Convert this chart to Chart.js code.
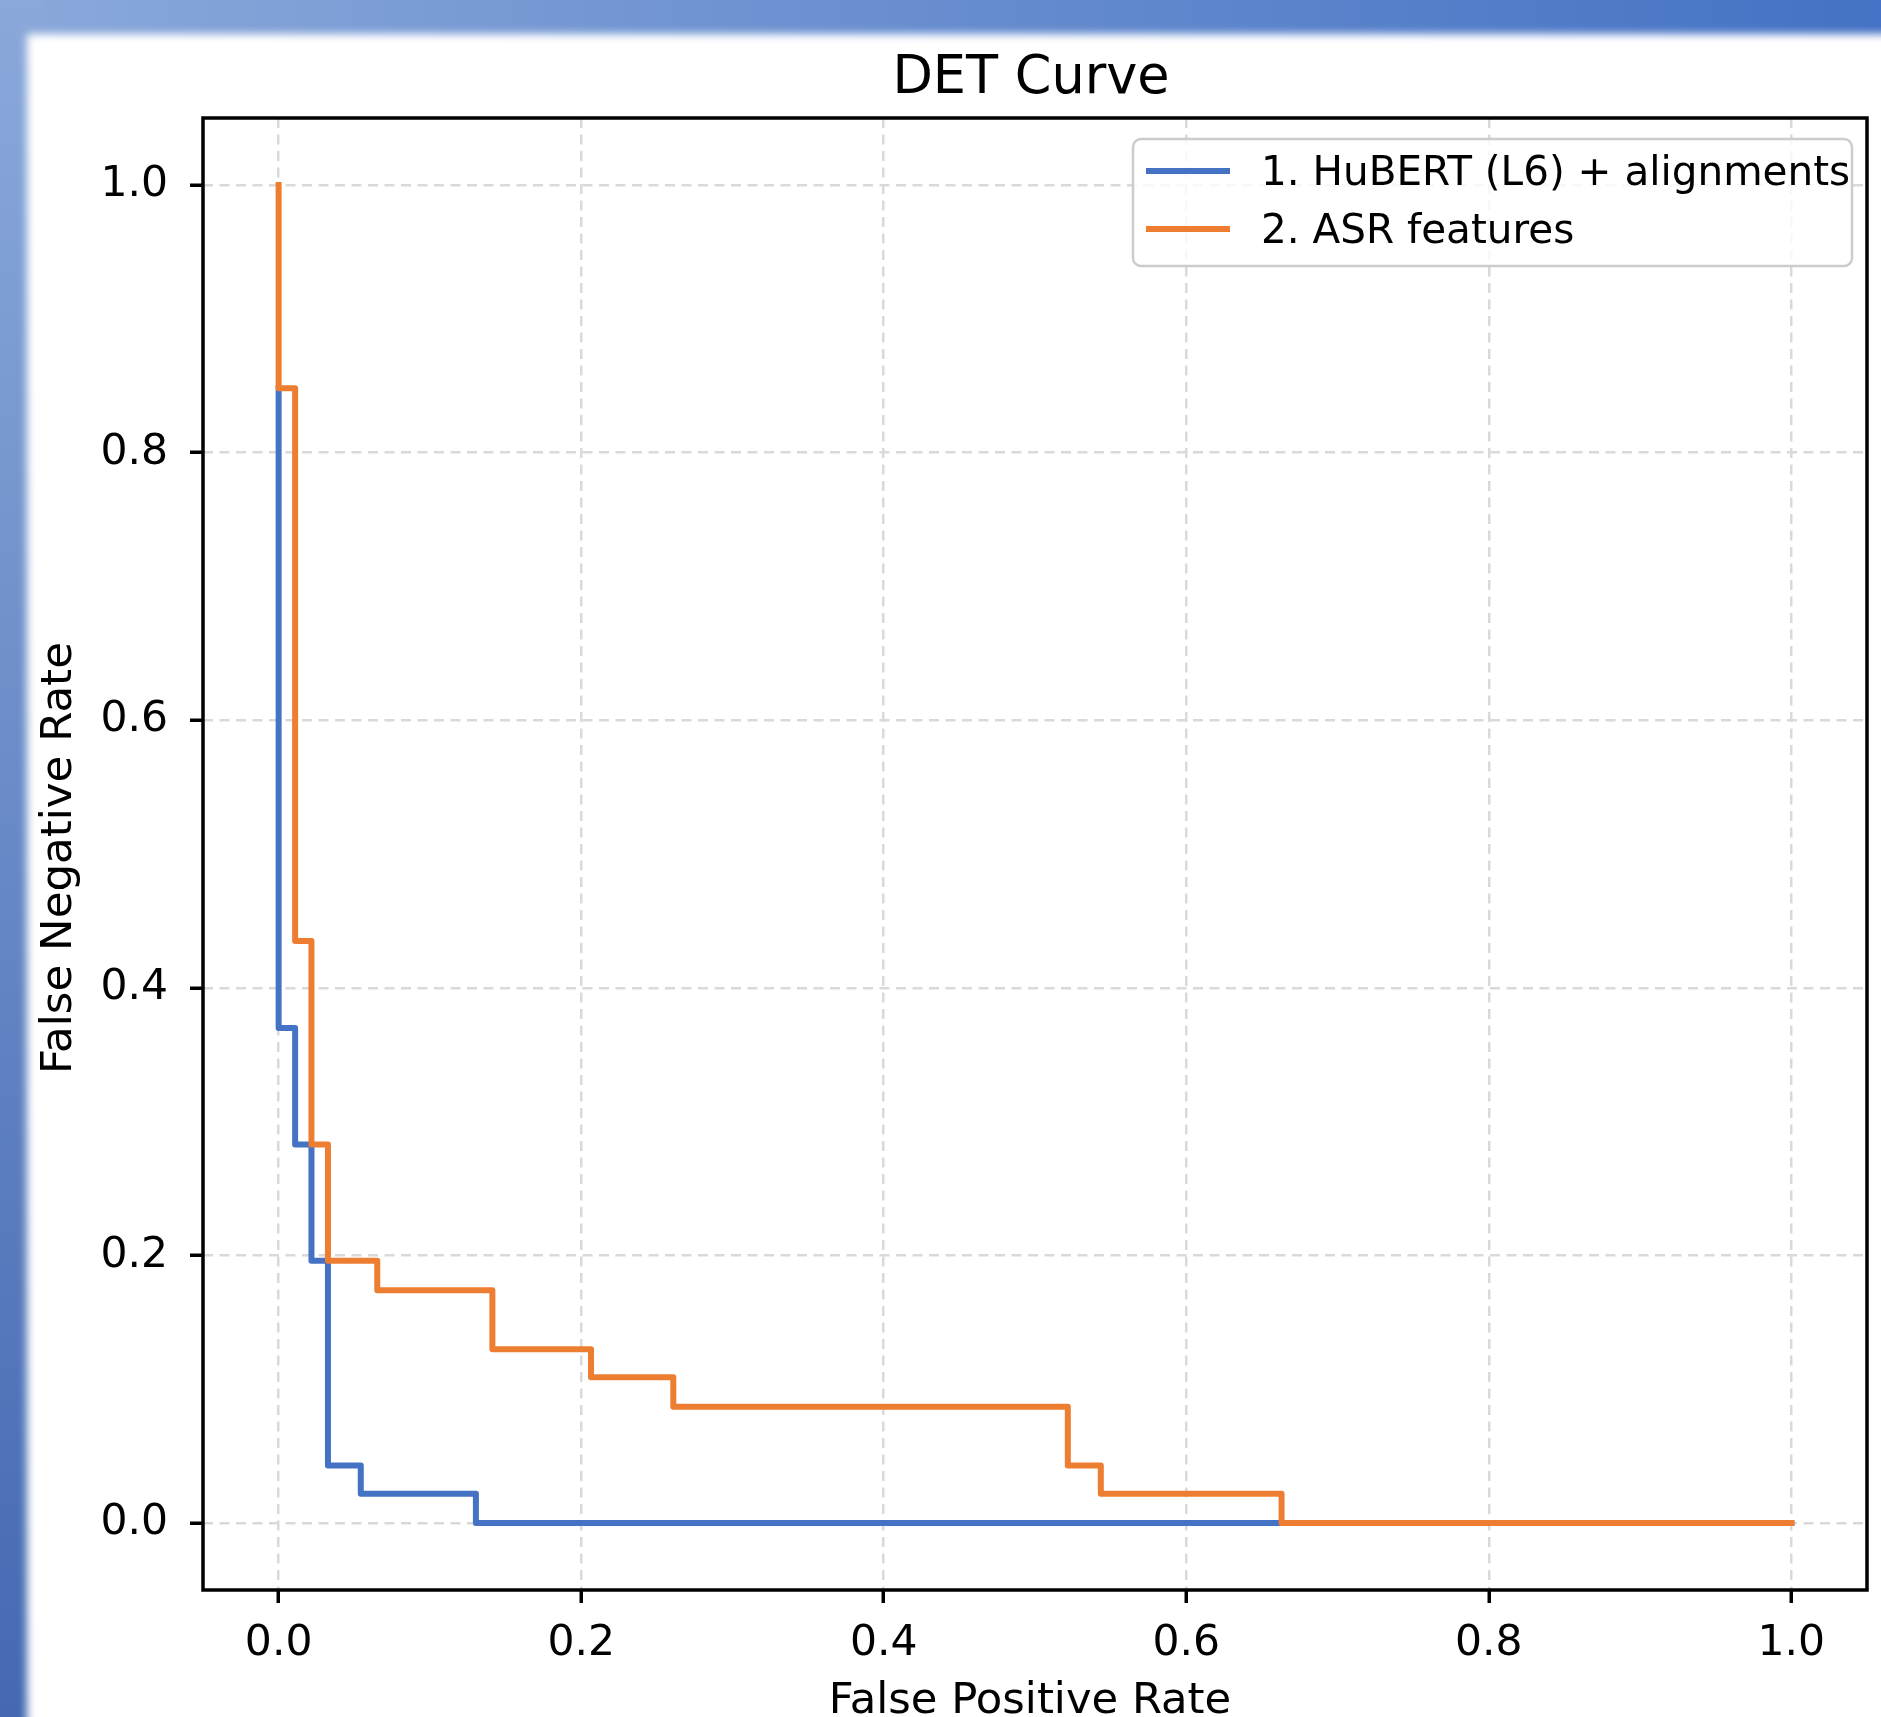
<!DOCTYPE html>
<html>
<head>
<meta charset="utf-8">
<title>DET Curve</title>
<script src="https://cdn.jsdelivr.net/npm/chart.js@4.4.1/dist/chart.umd.min.js"></script>
<style>
    html, body {
        margin: 0;
        padding: 0;
        width: 1881px;
        height: 1717px;
        overflow: hidden;
        background: #ffffff;
    }
    .band-top {
        position: absolute;
        left: 0;
        top: 0;
        width: 1881px;
        height: 50px;
        background: linear-gradient(to right, #8aa8da, #4472c4);
    }
    .band-left {
        position: absolute;
        left: 0;
        top: 0;
        width: 44px;
        height: 1717px;
        background: linear-gradient(to bottom, #8aa8da, #4469b2);
    }
    .sheet {
        position: absolute;
        left: 27px;
        top: 34px;
        width: 1900px;
        height: 1750px;
        background: #ffffff;
        filter: blur(4px);
    }
    #detChart {
        position: absolute;
        left: 0;
        top: 0;
    }
</style>
</head>
<body>
<div class="band-top"></div>
<div class="band-left"></div>
<div class="sheet"></div>
<canvas id="detChart" width="1881" height="1717"></canvas>

<script>
const titleText = 'DET Curve';
const xTitle = 'False Positive Rate';
const yTitle = 'False Negative Rate';

// tick positions on both axes
const xTicks = [0.0, 0.2, 0.4, 0.6, 0.8, 1.0];
const yTicks = [0.0, 0.2, 0.4, 0.6, 0.8, 1.0];

// 1. HuBERT (L6) + alignments
const hubertLabel = '1. HuBERT (L6) + alignments';
const hubertFpr = [0.0, 0.0109, 0.0217, 0.0326, 0.0543, 0.1304, 1.0];
const hubertFnr = [0.848, 0.370, 0.283, 0.196, 0.043, 0.022, 0.0];

// 2. ASR features
const asrLabel = '2. ASR features';
const asrFpr = [0.0, 0.0109, 0.0217, 0.0326, 0.0652, 0.1413, 0.2065, 0.2609, 0.5217, 0.5435, 0.6630, 1.0];
const asrFnr = [1.0, 0.848, 0.435, 0.283, 0.196, 0.174, 0.130, 0.109, 0.087, 0.043, 0.022, 0.0];

const blue = '#4472c4';
const orange = '#ed7d31';
const fontFamily = '"DejaVu Sans", "Liberation Sans", sans-serif';
const lineW = 6;

const toPoints = (xs, ys) => xs.map((x, i) => ({ x: x, y: ys[i] }));

// frame, titles and legend drawn the way matplotlib places them
const axesDecor = {
    id: 'axesDecor',
    afterDraw(chart) {
        const { ctx, chartArea: a } = chart;
        const midX = (a.left + a.right) / 2;
        const midY = (a.top + a.bottom) / 2;
        ctx.save();

        ctx.strokeStyle = '#000000';
        ctx.lineWidth = 3.5;
        ctx.strokeRect(a.left, a.top, a.right - a.left, a.bottom - a.top);

        ctx.fillStyle = '#000000';
        ctx.font = '52.5px ' + fontFamily;
        ctx.textAlign = 'center';
        ctx.textBaseline = 'alphabetic';
        ctx.fillText(titleText, midX - 4, a.top - 25);

        // axis titles
        ctx.font = '43.3px ' + fontFamily;
        ctx.textBaseline = 'middle';
        ctx.fillText(xTitle, midX - 5, a.bottom + 112);

        ctx.save();
        ctx.translate(60, midY + 4);
        ctx.rotate(-Math.PI / 2);
        ctx.font = '43.5px ' + fontFamily;
        ctx.fillText(yTitle, 0, 0);
        ctx.restore();

        // legend
        const boxLeft = a.right - 734;
        const boxTop = a.top + 21;
        const boxW = 719;
        const boxH = 127;
        ctx.beginPath();
        ctx.roundRect(boxLeft, boxTop, boxW, boxH, 8);
        ctx.fillStyle = 'rgba(255, 255, 255, 0.8)';
        ctx.fill();
        ctx.strokeStyle = '#cccccc';
        ctx.lineWidth = 2.5;
        ctx.stroke();

        ctx.font = '40.5px ' + fontFamily;
        ctx.textAlign = 'left';
        ctx.textBaseline = 'middle';
        chart.data.datasets.forEach((ds, i) => {
            const y = boxTop + 32 + i * 58;
            ctx.beginPath();
            ctx.moveTo(boxLeft + 13, y);
            ctx.lineTo(boxLeft + 97, y);
            ctx.strokeStyle = ds.borderColor;
            ctx.lineWidth = lineW;
            ctx.stroke();
            ctx.fillStyle = '#000000';
            ctx.fillText(ds.label, boxLeft + 128, y + 3);
        });

        ctx.restore();
    }
};

const axisStyle = (ticks) => ({
    type: 'linear',
    min: -0.05,
    max: 1.05,
    afterBuildTicks: scale => {
        scale.ticks = ticks.map(v => ({ value: v }));
    },
    border: {
        display: false,
        dash: [10, 6.5]
    },
    grid: {
        color: '#d9d9d9',
        lineWidth: 2.5,
        tickColor: '#000000',
        tickWidth: 3.5,
        tickLength: 13,
        tickBorderDash: []
    },
    ticks: {
        color: '#000000',
        font: { family: fontFamily, size: 42.5 },
        autoSkip: false,
        maxRotation: 0,
        callback: value => Number(value).toFixed(1)
    }
});

const xAxis = axisStyle(xTicks);
xAxis.afterFit = scale => { scale.height = 127; };
xAxis.ticks.padding = 15;

const yAxis = axisStyle(yTicks);
yAxis.afterFit = scale => { scale.width = 203; };
yAxis.ticks.padding = 22;

const ctx = document.getElementById('detChart').getContext('2d');

const detChart = new Chart(ctx, {
    type: 'scatter',
    data: {
        datasets: [{
            label: hubertLabel,
            data: toPoints(hubertFpr, hubertFnr),
            borderColor: blue,
            backgroundColor: blue,
            showLine: true,
            stepped: 'after',
            borderWidth: lineW,
            borderJoinStyle: 'round',
            borderCapStyle: 'square',
            pointRadius: 0,
            fill: false,
            order: 1
        }, {
            label: asrLabel,
            data: toPoints(asrFpr, asrFnr),
            borderColor: orange,
            backgroundColor: orange,
            showLine: true,
            stepped: 'after',
            borderWidth: lineW,
            borderJoinStyle: 'round',
            borderCapStyle: 'square',
            pointRadius: 0,
            fill: false,
            order: 0
        }]
    },
    options: {
        responsive: false,
        maintainAspectRatio: false,
        devicePixelRatio: 1,
        animation: false,
        events: [],
        layout: {
            padding: { left: 0, top: 118, right: 14, bottom: 0 }
        },
        plugins: {
            legend: { display: false },
            title: { display: false },
            tooltip: { enabled: false }
        },
        scales: {
            x: xAxis,
            y: yAxis
        }
    },
    plugins: [axesDecor]
});
</script>
</body>
</html>
